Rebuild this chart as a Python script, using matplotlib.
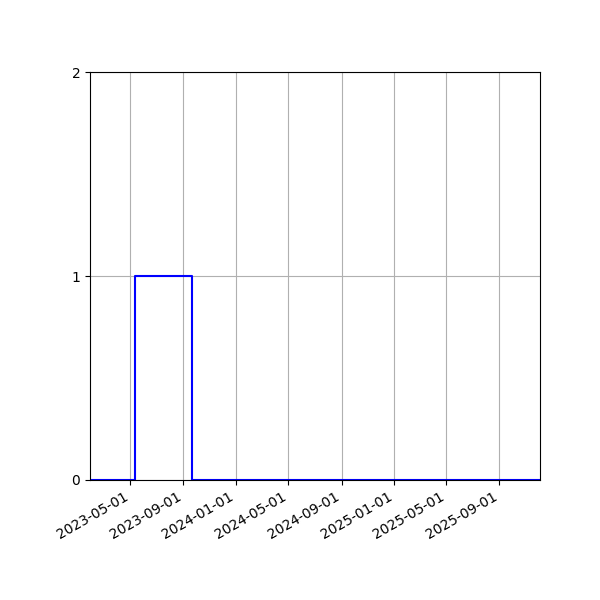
import numpy as np
import pandas as pd
import matplotlib
matplotlib.use("Agg")
import matplotlib.pyplot as plt
import matplotlib.dates as mdates

# step points (value holds until next date)
dates = pd.to_datetime(["2023-01-28", "2023-05-11", "2023-09-22", "2025-12-04"])
values = [0, 1, 0, 0]

fig, ax = plt.subplots(figsize=(6, 6), dpi=100)
fig.subplots_adjust(left=0.15, right=0.9, top=0.88)

ax.plot(dates, values, drawstyle="steps-post", color="blue", linewidth=1.5)
ax.set_xlim(dates[0], dates[-1])
ax.set_ylim(0, 2)
ax.set_yticks([0, 1, 2])
ax.xaxis.set_major_locator(mdates.MonthLocator(bymonth=[1, 5, 9]))
ax.xaxis.set_major_formatter(mdates.DateFormatter("%Y-%m-%d"))
ax.grid(True)
fig.autofmt_xdate()

fig.savefig("out.png")
